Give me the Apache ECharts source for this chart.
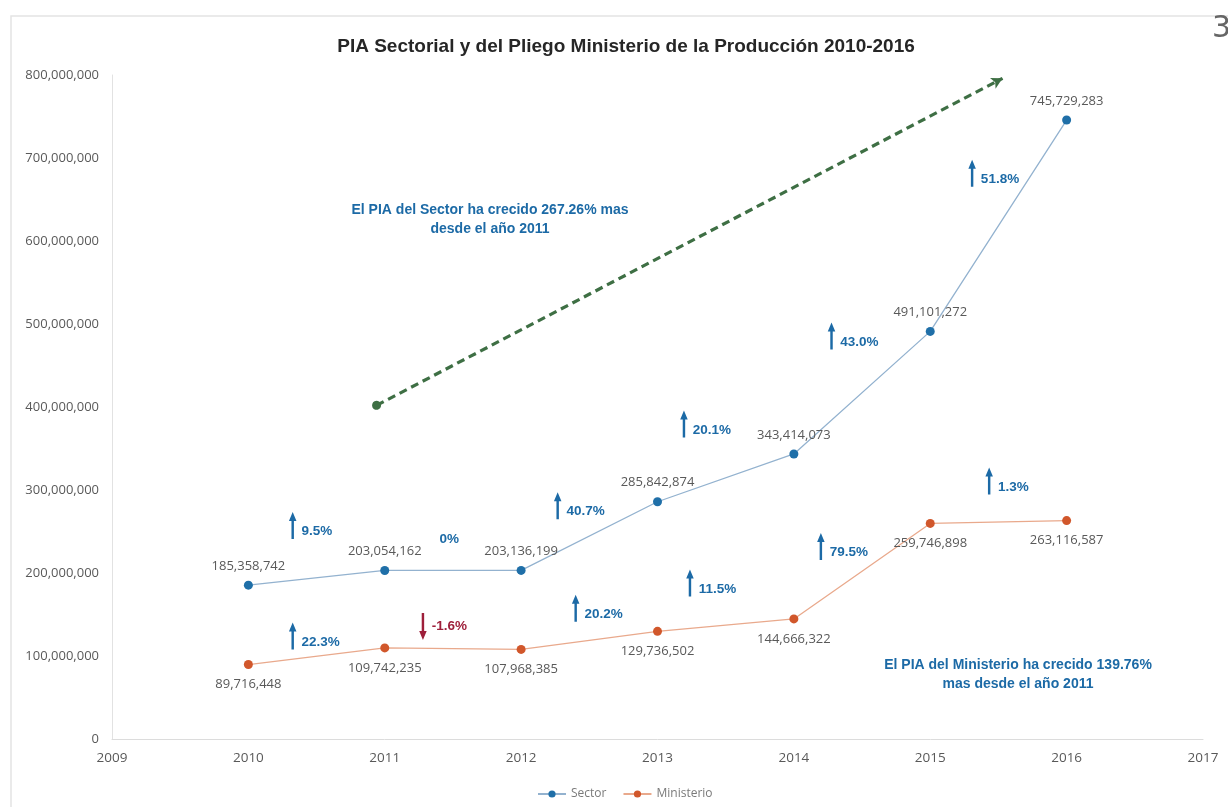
<!DOCTYPE html>
<html>
<head>
<meta charset="utf-8">
<script src="https://cdn.jsdelivr.net/npm/echarts@6/dist/echarts.min.js"></script>
<style>
html,body{margin:0;padding:0;background:#fff;}
#chart{width:1228px;height:807px;}
</style>
</head>
<body>
<div id="chart"></div>
<script>
// ---- data ----
const years = [2010, 2011, 2012, 2013, 2014, 2015, 2016];
const sectorValues = [185358742, 203054162, 203136199, 285842874, 343414073, 491101272, 745729283];
const ministerioValues = [89716448, 109742235, 107968385, 129736502, 144666322, 259746898, 263116587];
const seriesNames = ['Sector', 'Ministerio'];
const xRange = [2009, 2017];
const yRange = [0, 800000000];
const yStep = 100000000;

// trend arrow (start / end in data units)
const trendStart = [2010.94, 402000000];
const trendEnd = [2015.53, 796000000];

// change annotations: text, direction
const changeTexts = ['9.5%', '22.3%', '-1.6%', '40.7%', '20.1%', '20.2%', '11.5%', '43.0%', '51.8%', '79.5%', '1.3%', '0%'];
const changeDirs  = ['up', 'up', 'down', 'up', 'up', 'up', 'up', 'up', 'up', 'up', 'up', 'none'];
// annotation anchor positions in data units (arrow centre)
const changePosX = [2010.325, 2010.325, 2011.28, 2012.268, 2013.194, 2012.40, 2013.238, 2014.276, 2015.307, 2014.198, 2015.432, 2011.397];
const changePosY = [257.2e6, 124.1e6, 135.5e6, 281.1e6, 379.5e6, 157.5e6, 188.0e6, 485.5e6, 681.6e6, 231.9e6, 310.8e6, 241.0e6];

const titleText = 'PIA Sectorial y del Pliego Ministerio de la Producción 2010-2016';
const noteSector = 'El PIA del Sector ha crecido 267.26% mas\ndesde el año 2011';
const noteMinisterio = 'El PIA del Ministerio ha crecido 139.76%\nmas desde el año 2011';

// ---- styles ----
const BLUE_TXT = '#1c6aa6';
const RED_TXT = '#9e1f3a';
const LABEL_GRAY = '#595959';
const BOLD_FONT = "'Liberation Sans', Arial, sans-serif";
const LABEL_FONT = "'Open Sans', 'DejaVu Sans', sans-serif";

const chart = echarts.init(document.getElementById('chart'), null, {renderer: 'canvas'});

const fmt = v => Number(v).toLocaleString('en-US');
const arrowPath = 'path://M4,0 L8,9 L5.3,9 L5.3,27 L2.7,27 L2.7,9 L0,9 Z';

const changeData = changeTexts.map((t, i) => {
  const dir = changeDirs[i];
  const col = dir === 'down' ? RED_TXT : BLUE_TXT;
  return {
    value: [changePosX[i], changePosY[i]],
    symbol: dir === 'none' ? 'circle' : arrowPath,
    symbolSize: dir === 'none' ? 1 : [7.5, 27],
    symbolRotate: dir === 'down' ? 180 : 0,
    itemStyle: {color: dir === 'none' ? 'rgba(0,0,0,0)' : col, opacity: 1},
    label: {
      show: true, position: 'right',
      distance: dir === 'none' ? 0 : 5,
      offset: dir === 'up' ? [0, 6] : [0, 0],
      formatter: t, color: col, opacity: 1,
      fontFamily: BOLD_FONT, fontWeight: 'bold', fontSize: 13.5
    }
  };
});

const option = {
  backgroundColor: '#fff',
  animation: false,
  title: {
    text: titleText, left: 621, top: 32, textAlign: 'center',
    textStyle: {fontFamily: BOLD_FONT, fontWeight: 'bold', fontSize: 19, color: '#262626'}
  },
  legend: {
    data: seriesNames, left: 532, top: 783, itemWidth: 28, itemHeight: 9, itemGap: 16,
    textStyle: {color: '#7a7a7a', fontSize: 12, fontFamily: LABEL_FONT}
  },
  grid: {left: 112, right: 25, top: 75, bottom: 68, containLabel: false},
  xAxis: {
    type: 'value', min: xRange[0], max: xRange[1], interval: 1,
    axisLine: {show: true, lineStyle: {color: '#dcdcdc'}},
    axisTick: {show: false},
    splitLine: {show: false},
    axisLabel: {formatter: v => String(v), color: LABEL_GRAY, fontSize: 13.5, fontFamily: LABEL_FONT, margin: 12}
  },
  yAxis: {
    type: 'value', min: yRange[0], max: yRange[1], interval: yStep,
    axisLine: {show: true, lineStyle: {color: '#e2e2e2'}},
    axisTick: {show: false},
    splitLine: {show: false},
    axisLabel: {formatter: v => fmt(v), color: LABEL_GRAY, fontSize: 13, fontFamily: LABEL_FONT, margin: 13}
  },
  graphic: [
    {type: 'rect', shape: {x: 11, y: 16, width: 1240, height: 820}, style: {fill: 'none', stroke: '#e4e4e4', lineWidth: 1.5}, silent: true},
    {type: 'text', left: 1212, top: 14, style: {text: '3', fontSize: 30, fontFamily: 'DejaVu Sans', fill: '#666'}, silent: true},
    {type: 'text', x: 490, y: 220, style: {text: noteSector, fill: BLUE_TXT, fontFamily: BOLD_FONT, fontWeight: 'bold', fontSize: 14, align: 'center', verticalAlign: 'middle', lineHeight: 19}, silent: true},
    {type: 'text', x: 1018, y: 675, style: {text: noteMinisterio, fill: BLUE_TXT, fontFamily: BOLD_FONT, fontWeight: 'bold', fontSize: 14, align: 'center', verticalAlign: 'middle', lineHeight: 19}, silent: true}
  ],
  series: [
    {
      name: seriesNames[0], type: 'line',
      data: years.map((y, i) => [y, sectorValues[i]]),
      symbol: 'circle', symbolSize: 9,
      lineStyle: {color: '#93b2cf', width: 1.3},
      itemStyle: {color: '#1f6fa8'},
      label: {show: true, position: 'top', distance: 8, formatter: p => fmt(p.value[1]), color: LABEL_GRAY, fontSize: 13, fontFamily: LABEL_FONT},
      z: 3
    },
    {
      name: seriesNames[1], type: 'line',
      data: years.map((y, i) => [y, ministerioValues[i]]),
      symbol: 'circle', symbolSize: 9,
      lineStyle: {color: '#e9a98c', width: 1.3},
      itemStyle: {color: '#d1572b'},
      label: {show: true, position: 'bottom', distance: 9, formatter: p => fmt(p.value[1]), color: LABEL_GRAY, fontSize: 13, fontFamily: LABEL_FONT},
      z: 3
    },
    {
      name: 'trend', type: 'line', data: [], silent: true,
      markLine: {
        silent: true, animation: false,
        symbol: ['circle', 'arrow'], symbolSize: [9, 11],
        label: {show: false},
        lineStyle: {color: '#3e6f44', width: 3.2, type: [8, 5]},
        data: [[{coord: trendStart}, {coord: trendEnd}]]
      }
    },
    {
      name: 'changes', type: 'scatter', data: changeData, silent: true, z: 4,
      itemStyle: {opacity: 1}
    }
  ]
};
chart.setOption(option);
</script>
</body>
</html>
